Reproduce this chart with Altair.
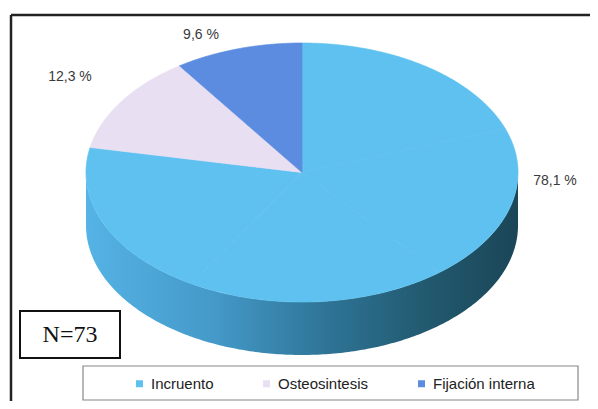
import numpy as np
import pandas as pd
import altair as alt

# ---- data ----
categories = ["Incruento", "Osteosintesis", "Fijación interna"]
percent = [78.1, 12.3, 9.6]
pct_labels = ["78,1 %", "12,3 %", "9,6 %"]
sample_note = ["N=73"]

# ---- style / layout (page pixels) ----
slice_colors = ["#5EC1EF", "#E9DFF3", "#5B8CE0"]
FONT = "Liberation Sans"
W, H = 582, 393
CX, CY, RX, RY, DEPTH = 302.0, 172.5, 216.0, 129.5, 53.0
label_pos = [(555, 181), (70, 77), (201, 35)]


def ell(a):
    return CX + RX * np.sin(a), CY - RY * np.cos(a)


# top face: each slice split into convex pieces, each described as x -> [y, y2]
rows = []
start = 0.0
for cat, p in zip(categories, percent):
    span = p / 100 * 2 * np.pi
    npc = int(np.ceil(span / (np.pi / 2)))
    for k in range(npc):
        a0 = start + span * k / npc
        a1 = start + span * (k + 1) / npc
        poly = [(CX, CY)] + [ell(a) for a in np.linspace(a0, a1, 80)]
        vx = np.array([q[0] for q in poly])
        xs = np.unique(np.concatenate([np.linspace(vx.min(), vx.max(), 160), vx]))
        n = len(poly)
        for x in xs:
            ys = []
            for i in range(n):
                x0, y0 = poly[i]
                x1, y1 = poly[(i + 1) % n]
                if min(x0, x1) - 1e-9 <= x <= max(x0, x1) + 1e-9:
                    if abs(x1 - x0) < 1e-12:
                        ys += [y0, y1]
                    else:
                        t = (x - x0) / (x1 - x0)
                        ys.append(y0 + t * (y1 - y0))
            if ys:
                rows.append({"slice": cat, "piece": f"{cat}-{k}", "x": x,
                             "y": min(ys), "y2": max(ys)})
    start += span
top_df = pd.DataFrame(rows)

# visible side wall (front half of the pie)
side_rows = []
start = 0.0
for cat, p in zip(categories, percent):
    span = p / 100 * 2 * np.pi
    a0, a1 = max(start, np.pi / 2), min(start + span, 3 * np.pi / 2)
    if a1 > a0:
        for a in np.linspace(a0, a1, 240):
            x, y = ell(a)
            side_rows.append({"slice": cat, "x": x, "y": y, "y2": y + DEPTH})
    start += span
side_df = pd.DataFrame(side_rows)

label_df = pd.DataFrame({"text": pct_labels,
                         "x": [q[0] for q in label_pos],
                         "y": [q[1] for q in label_pos]})

xsc = alt.Scale(domain=[8, 8 + W], nice=False, zero=False)
ysc = alt.Scale(domain=[8, 8 + H], nice=False, zero=False, reverse=True)
csc = alt.Scale(domain=categories, range=slice_colors)

grad = alt.Gradient(
    gradient="linear",
    stops=[alt.GradientStop(color="#55B3E5", offset=0),
           alt.GradientStop(color="#4499C8", offset=0.3),
           alt.GradientStop(color="#2F7598", offset=0.55),
           alt.GradientStop(color="#225A70", offset=0.78),
           alt.GradientStop(color="#1B4657", offset=1)],
    x1=0, x2=1, y1=0, y2=0)

frame = alt.Chart(pd.DataFrame({"k": [0]})).mark_rule(color="#222", strokeWidth=2.5).encode(
    x=alt.value(3), x2=alt.value(W + 10), y=alt.value(7), y2=alt.value(7))
frame_l = alt.Chart(pd.DataFrame({"k": [0]})).mark_rule(color="#222", strokeWidth=2.5).encode(
    x=alt.value(3), x2=alt.value(3), y=alt.value(7), y2=alt.value(H + 10))

side = alt.Chart(side_df).mark_area(color=grad, orient="vertical").encode(
    x=alt.X("x:Q", scale=xsc, axis=None),
    y=alt.Y("y:Q", scale=ysc, axis=None),
    y2="y2:Q")

top = alt.Chart(top_df).mark_area(orient="vertical", strokeWidth=0.7).encode(
    x=alt.X("x:Q", scale=xsc, axis=None),
    y=alt.Y("y:Q", scale=ysc, axis=None),
    y2="y2:Q",
    color=alt.Color("slice:N", scale=csc, sort=categories,
                    legend=alt.Legend(title=None, orient="none", legendX=124, legendY=368,
                                      direction="horizontal", symbolType="square",
                                      symbolSize=49, symbolStrokeWidth=0,
                                      labelFont=FONT, labelFontSize=15,
                                      labelColor="#222", columnPadding=45,
                                      labelOffset=4, padding=0)),
    stroke=alt.Stroke("slice:N", scale=csc, legend=None),
    detail="piece:N")

texts = alt.Chart(label_df).mark_text(font=FONT, fontSize=14, color="#3a3a3a",
                                      align="center", baseline="middle").encode(
    x=alt.X("x:Q", scale=xsc, axis=None),
    y=alt.Y("y:Q", scale=ysc, axis=None),
    text="text:N")

nbox = alt.Chart(pd.DataFrame({"t": sample_note})).mark_rect(
    fill="white", stroke="#111", strokeWidth=2).encode(
    x=alt.value(12), x2=alt.value(112), y=alt.value(303), y2=alt.value(350))
ntext = alt.Chart(pd.DataFrame({"t": sample_note})).mark_text(
    font="Liberation Serif", fontSize=24, color="#111", align="center", baseline="middle").encode(
    x=alt.value(62), y=alt.value(327), text="t:N")

legbox = alt.Chart(pd.DataFrame({"k": [0]})).mark_rect(
    fill="white", stroke="#888", strokeWidth=1.2).encode(
    x=alt.value(75), x2=alt.value(570), y=alt.value(358), y2=alt.value(392))

chart = alt.layer(frame, frame_l, side, top, texts, nbox, ntext, legbox).properties(
    width=W, height=H, padding=0, autosize="none"
).configure_view(stroke=None)

chart.save("out.html", embed_options={"renderer": "svg", "actions": False})
